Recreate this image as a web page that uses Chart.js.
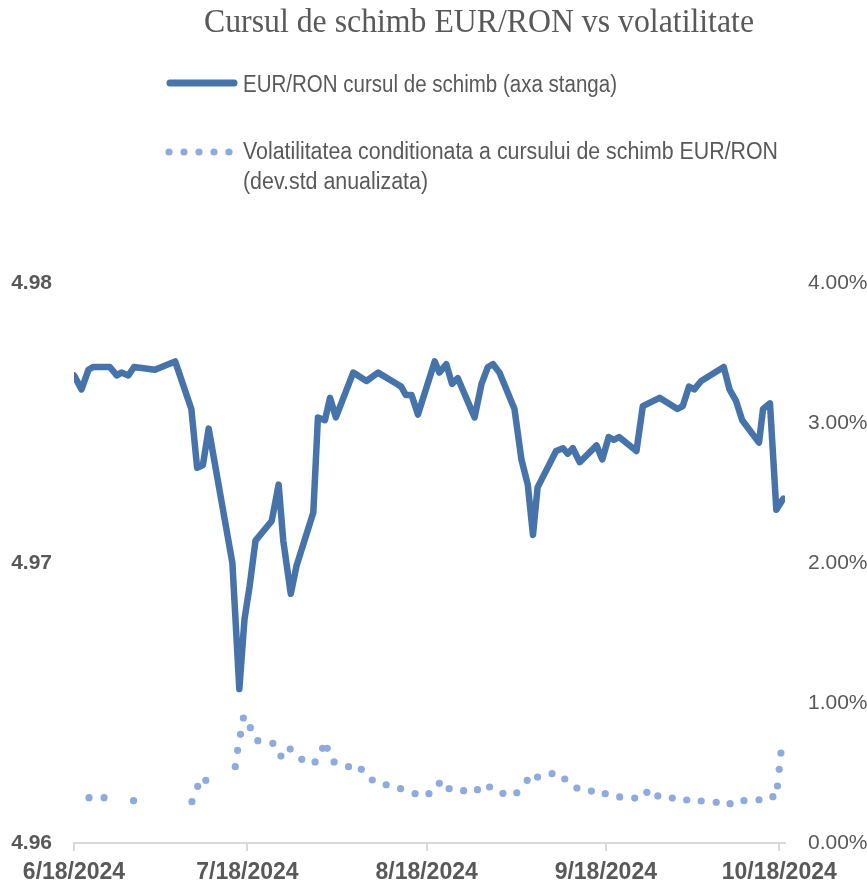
<!DOCTYPE html>
<html>
<head>
<meta charset="utf-8">
<script src="https://cdn.jsdelivr.net/npm/chart.js@4.4.1/dist/chart.umd.min.js"></script>
<style>
  html, body { margin: 0; padding: 0; background: #fff; }
  #wrap { width: 867px; height: 890px; position: relative; }
</style>
</head>
<body>
<div id="wrap"><canvas id="cursChart"></canvas></div>
<script>
// zile de la 6/18/2024
const zileCurs = [0,1.3,2.5,3.3,6.2,7.4,8.2,9.4,10.4,14.0,17.5,20.3,21.3,22.3,23.3,27.4,28.6,29.5,30.4,31.4,
  34.2,35.4,36.2,37.5,38.5,41.4,42.2,43.4,44.3,45.3,48.3,49.1,50.6,52.6,55.8,56.6,57.4,58.4,59.5,62.4,
  63.2,64.4,65.4,66.4,69.3,70.5,71.6,72.5,73.6,76.2,77.4,78.5,79.4,80.2,83.4,84.6,85.4,86.3,87.5,90.4,
  91.4,92.5,93.4,94.3,97.3,98.4,101.3,104.4,105.3,106.4,107.3,108.5,112.4,113.4,114.5,115.6,118.5,119.2,120.4,121.5,122.7];
const curs = [4.9767,4.9762,4.9769,4.9770,4.9770,4.9767,4.9768,4.9767,4.9770,4.9769,4.9772,4.9755,4.9734,4.9735,4.9748,4.9700,4.9655,4.9680,4.9692,4.9708,
  4.9715,4.9728,4.9708,4.9689,4.9699,4.9718,4.9752,4.9751,4.9759,4.9752,4.9768,4.9767,4.9765,4.9768,4.9764,4.9763,4.9760,4.9760,4.9753,4.9772,
  4.9768,4.9771,4.9764,4.9766,4.9752,4.9764,4.9770,4.9771,4.9768,4.9755,4.9737,4.9728,4.9710,4.9727,4.9740,4.9741,4.9739,4.9741,4.9736,4.9742,
  4.9737,4.9745,4.9744,4.9745,4.9740,4.9756,4.9759,4.9755,4.9756,4.9763,4.9762,4.9765,4.9770,4.9762,4.9758,4.9751,4.9743,4.9755,4.9757,4.9719,4.9723];

const zileVol = [2.6,5.2,10.3,20.4,21.4,22.8,27.9,28.3,28.8,29.3,30.5,31.8,34.4,35.8,37.4,39.4,41.7,43.0,43.8,45.0,
  47.5,49.7,51.6,54.0,56.5,59.0,61.4,63.2,64.9,67.4,69.8,71.9,74.2,76.6,78.4,80.2,82.7,84.9,87.0,89.5,
  91.9,94.4,97.0,99.1,101.0,103.5,106.0,108.5,111.1,113.5,115.9,118.5,120.9,121.7,122.0,122.3];
const volatilitate = [0.324,0.324,0.302,0.295,0.405,0.448,0.545,0.662,0.776,0.893,0.824,0.731,0.712,0.621,0.671,0.598,0.579,0.676,0.676,0.579,
  0.545,0.526,0.450,0.416,0.388,0.352,0.352,0.426,0.388,0.374,0.381,0.400,0.355,0.359,0.448,0.471,0.495,0.457,0.393,0.371,
  0.352,0.329,0.321,0.362,0.336,0.321,0.307,0.300,0.291,0.281,0.302,0.309,0.331,0.407,0.526,0.643];

const zileTick = [0, 30, 61, 92, 122];
const eticheteTick = ['6/18/2024', '7/18/2024', '8/18/2024', '9/18/2024', '10/18/2024'];

const titlu = 'Cursul de schimb EUR/RON vs volatilitate';
const legenda1 = 'EUR/RON cursul de schimb (axa stanga)';
const legenda2 = ['Volatilitatea conditionata a cursului de schimb EUR/RON', '(dev.std anualizata)'];

const albastru = '#4673aa';
const albastruDeschis = '#8faadc';
const gri = '#595959';

// titlu + legenda desenate manual
const antet = {
  id: 'antet',
  afterDraw(chart) {
    const c = chart.ctx;
    c.save();
    c.fillStyle = gri;
    c.textBaseline = 'alphabetic';
    c.textAlign = 'left';
    c.font = '33px "Liberation Serif", serif';
    c.fillText(titlu, 204, 32, 550);

    c.strokeStyle = albastru;
    c.lineWidth = 7;
    c.lineCap = 'round';
    c.beginPath();
    c.moveTo(170, 83);
    c.lineTo(234, 83);
    c.stroke();

    c.font = '23px "Liberation Sans Narrow", "Liberation Sans", sans-serif';
    c.fillText(legenda1, 243, 92, 374);

    c.fillStyle = albastruDeschis;
    for (let i = 0; i < 5; i++) {
      c.beginPath();
      c.arc(169 + i * 15, 152, 3.6, 0, Math.PI * 2);
      c.fill();
    }
    c.fillStyle = gri;
    c.fillText(legenda2[0], 243, 159, 535);
    c.fillText(legenda2[1], 243, 189, 185);
    c.restore();
  }
};

const ctx = document.getElementById('cursChart');
new Chart(ctx, {
  type: 'line',
  data: {
    datasets: [{
      label: legenda1,
      data: zileCurs.map((z, i) => ({ x: z, y: curs[i] })),
      yAxisID: 'y',
      borderColor: albastru,
      backgroundColor: albastru,
      borderWidth: 6.5,
      borderJoinStyle: 'round',
      borderCapStyle: 'round',
      pointRadius: 0,
      tension: 0,
      fill: false,
      order: 1
    }, {
      label: legenda2.join(' '),
      data: zileVol.map((z, i) => ({ x: z, y: volatilitate[i] })),
      yAxisID: 'y2',
      showLine: false,
      pointRadius: 3.6,
      pointBorderWidth: 0,
      pointBackgroundColor: albastruDeschis,
      borderColor: albastruDeschis,
      order: 2
    }]
  },
  options: {
    responsive: true,
    maintainAspectRatio: false,
    animation: false,
    layout: { padding: { top: 283, left: 0, right: 0, bottom: 0 } },
    plugins: {
      legend: { display: false },
      title: { display: false },
      tooltip: { enabled: false }
    },
    scales: {
      x: {
        type: 'linear',
        min: 0,
        max: 123,
        afterBuildTicks: s => { s.ticks = zileTick.map(v => ({ value: v })); },
        afterFit: s => { s.height = 47; },
        grid: { display: true, drawOnChartArea: false, drawTicks: true, tickLength: 8, color: '#d9d9d9', lineWidth: 2 },
        border: { display: true, color: '#d9d9d9', width: 2 },
        ticks: {
          autoSkip: false,
          maxRotation: 0,
          padding: 8,
          color: gri,
          font: { family: '"Liberation Sans", Arial, sans-serif', size: 23, weight: 'bold' },
          callback: v => eticheteTick[zileTick.indexOf(v)]
        }
      },
      y: {
        position: 'left',
        min: 4.96,
        max: 4.98,
        afterFit: s => { s.width = 74; },
        grid: { display: false, drawTicks: false },
        border: { display: false },
        ticks: {
          stepSize: 0.01,
          padding: 22,
          color: gri,
          font: { family: '"Liberation Sans", Arial, sans-serif', size: 21, weight: 'bold' },
          callback: v => v.toFixed(2)
        }
      },
      y2: {
        position: 'right',
        min: 0,
        max: 4,
        afterFit: s => { s.width = 82; },
        grid: { display: false, drawTicks: false },
        border: { display: false },
        ticks: {
          stepSize: 1,
          padding: 23,
          color: gri,
          font: { family: '"Liberation Sans Narrow", "Liberation Sans", sans-serif', size: 21 },
          callback: v => v.toFixed(2) + '%'
        }
      }
    }
  },
  plugins: [antet]
});
</script>
</body>
</html>
